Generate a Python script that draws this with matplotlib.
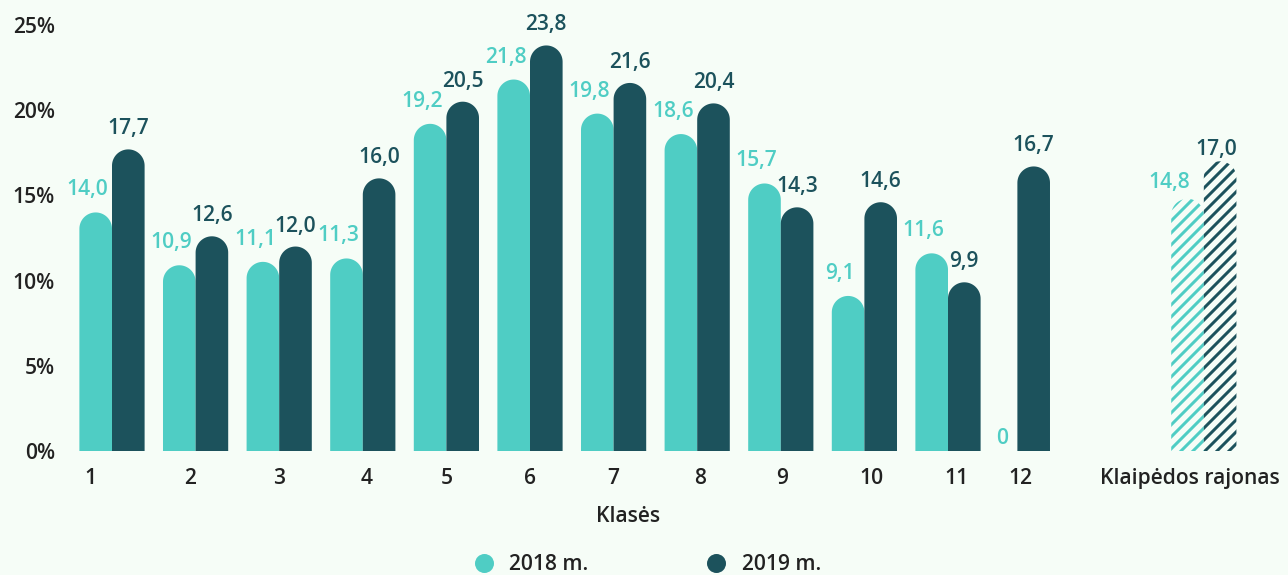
"""Grouped bars with rounded tops: share by class, 2018 vs 2019, plus district average."""

import numpy as np
import matplotlib
matplotlib.use('Agg')
import matplotlib.pyplot as plt
from matplotlib.path import Path
from matplotlib.patches import PathPatch
from matplotlib.lines import Line2D

CATEGORIES = ['1', '2', '3', '4', '5', '6', '7', '8', '9', '10', '11', '12',
              'Klaipėdos rajonas']
VALUES_2018 = [14.0, 10.9, 11.1, 11.3, 19.2, 21.8, 19.8, 18.6, 15.7, 9.1, 11.6, 0.0, 14.8]
VALUES_2019 = [17.7, 12.6, 12.0, 16.0, 20.5, 23.8, 21.6, 20.4, 14.3, 14.6, 9.9, 16.7, 17.0]
SERIES = ['2018 m.', '2019 m.']
Y_TICKS = [0, 5, 10, 15, 20, 25]

# layout
GROUP_POS = [0, 1, 2, 3, 4, 5, 6, 7, 8, 9, 10, 10.83, 13.06]
TICK_SHIFT = [-0.26, -0.07, 0, 0.05, 0, 0, 0, 0.03, 0.02, 0.08, 0.1, 0.04, -0.17]
HATCHED = [False] * 12 + [True]
BAR_W = 0.39
LIGHT = '#4fcdc4'
DARK = '#1c525c'
BG = '#f6fdf7'
TXT = '#222222'
FONT = 'Open Sans'

DPI = 72
plt.rcParams.update({'font.family': FONT, 'hatch.linewidth': 3.0})

fig = plt.figure(figsize=(1288 / DPI, 575 / DPI), dpi=DPI, facecolor=BG)
W, H = 1288, 575
px_x = 83.6
px_y = 17.04
x0px, zero_px = 60, 451
xlim = ((x0px - 112) / px_x, (W - 112) / px_x)
ylim = (0, 25.6)
ax = fig.add_axes([x0px / W, (H - zero_px) / H,
                   (W - x0px) / W, (ylim[1] * px_y) / H])
ax.set_facecolor(BG)
ax.set_xlim(*xlim)
ax.set_ylim(*ylim)
ry = (BAR_W / 2) * px_x / px_y


def rounded_bar(x_left, h, color, hatched):
    if h <= 0:
        return
    t = np.linspace(0, np.pi, 40)
    cx = x_left + BAR_W / 2
    cy = max(h - ry, 0)
    verts = [(x_left, 0), (x_left + BAR_W, 0)]
    verts += list(zip(cx + BAR_W / 2 * np.cos(t), cy + ry * np.sin(t)))
    verts += [(x_left, 0)]
    codes = [Path.MOVETO] + [Path.LINETO] * (len(verts) - 2) + [Path.CLOSEPOLY]
    if hatched:
        p = PathPatch(Path(verts, codes), facecolor='none', edgecolor=color,
                      linewidth=0, hatch='//')
    else:
        p = PathPatch(Path(verts, codes), facecolor=color, edgecolor='none')
    ax.add_patch(p)


for i, pos in enumerate(GROUP_POS):
    v18, v19 = VALUES_2018[i], VALUES_2019[i]
    rounded_bar(pos - BAR_W, v18, LIGHT, HATCHED[i])
    rounded_bar(pos, v19, DARK, HATCHED[i])
    if v18 == 0:
        ax.annotate('0', (pos - BAR_W / 2, 0), xytext=(1, 2),
                    textcoords='offset points', ha='center', va='bottom',
                    color=LIGHT, fontsize=21, fontweight='semibold')
    else:
        dx, dy = (-18, 6) if HATCHED[i] else (-8, 12)
        ax.annotate(f'{v18:.1f}'.replace('.', ','), (pos - BAR_W / 2, v18),
                    xytext=(dx, dy), textcoords='offset points',
                    ha='center', va='bottom', color=LIGHT, fontsize=21,
                    fontweight='semibold')
    dx, dy = (-4, 1) if HATCHED[i] else (0, 10)
    ax.annotate(f'{v19:.1f}'.replace('.', ','), (pos + BAR_W / 2, v19),
                xytext=(dx, dy), textcoords='offset points',
                ha='center', va='bottom', color=DARK, fontsize=21,
                fontweight='semibold')

ax.set_yticks(Y_TICKS)
ax.set_yticklabels([f'{t}%' for t in Y_TICKS], fontsize=21,
                   fontweight='semibold', color=TXT)
ax.set_xticks([p + s for p, s in zip(GROUP_POS, TICK_SHIFT)])
ax.set_xticklabels(CATEGORIES, fontsize=21, fontweight='semibold', color=TXT)
ax.tick_params(axis='both', length=0)
ax.tick_params(axis='y', pad=5)
ax.tick_params(axis='x', pad=17)
for s in ax.spines.values():
    s.set_visible(False)

fig.text(628 / W, 1 - 516 / H, 'Klasės', ha='center', va='center',
         fontsize=21, fontweight='semibold', color=TXT)

handles = [Line2D([], [], marker='o', linestyle='none', markersize=19,
                  markerfacecolor=c, markeredgecolor='none')
           for c in (LIGHT, DARK)]
leg = fig.legend(handles, SERIES, loc='center', ncol=2,
                 bbox_to_anchor=(647 / W, 1 - 565 / H), frameon=False,
                 handlelength=1.0, handletextpad=0.7, columnspacing=5.6,
                 prop={'family': FONT, 'size': 21, 'weight': 'semibold'})
for t in leg.get_texts():
    t.set_color(TXT)

fig.savefig('out.png', dpi=DPI, facecolor=BG)
